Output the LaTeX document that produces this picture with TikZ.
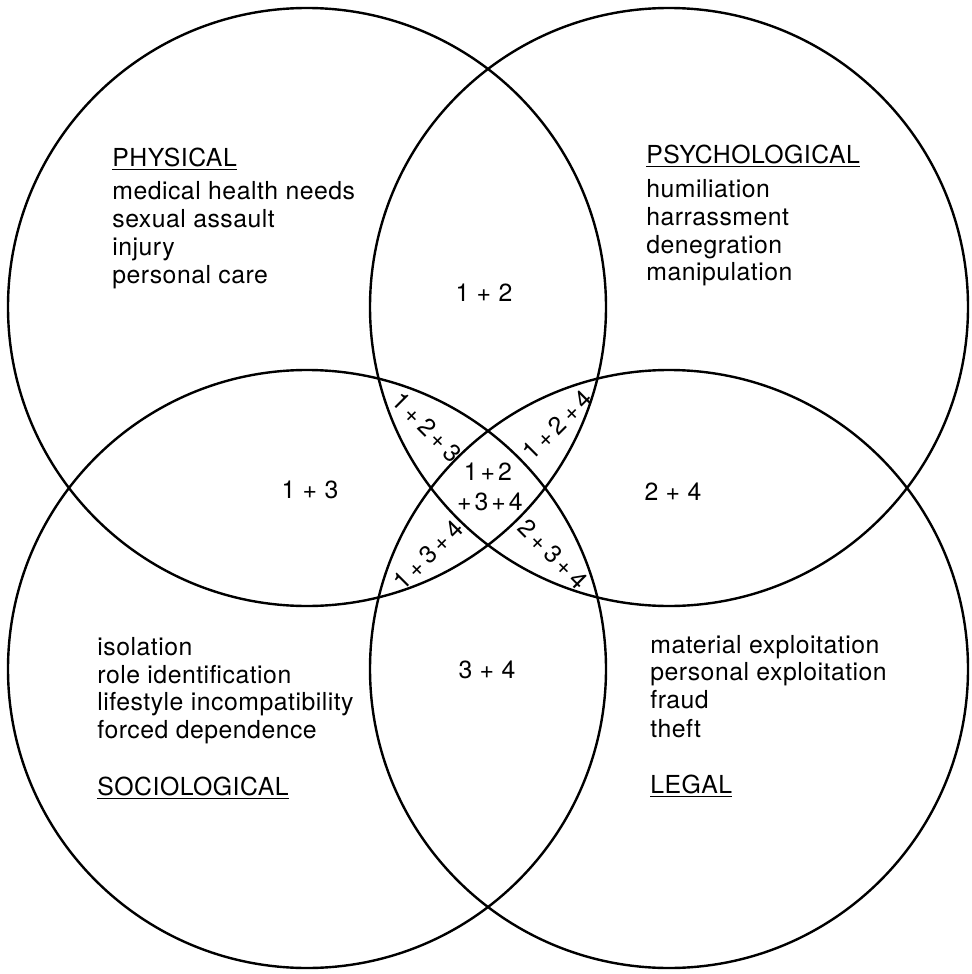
\documentclass[tikz,border=0pt]{standalone}
\usepackage{fontspec}
\setmainfont[LetterSpace=2]{TeX Gyre Heros}
\begin{document}
\begin{tikzpicture}[x=0.5pt,y=-0.5pt,
  ring/.style={circle,draw,line width=1.2pt,minimum size=299pt,inner sep=0pt},
  lbl/.style={anchor=base west,inner sep=0pt,font=\fontsize{12.4}{14}\selectfont},
  reg/.style={inner sep=0pt,font=\fontsize{12.4}{14}\selectfont}]
\useasboundingbox (0,0) rectangle (972,974);
% circles
\node[ring] (c1) at (307,307) {};
\node[ring] (c2) at (669,307) {};
\node[ring] (c3) at (307,669) {};
\node[ring] (c4) at (669,669) {};
% physical
\node[lbl] (phys) at (112,166) {\underline{PHYSICAL}};
\node[lbl] (p1) at (112,199) {medical health needs};
\node[lbl] (p2) at (112,227) {sexual assault};
\node[lbl] (p3) at (112,255) {injury};
\node[lbl] (p4) at (112,283) {personal care};
% psychological
\node[lbl] (psy) at (646,163) {\underline{PSYCHOLOGICAL}};
\node[lbl] (s1) at (646,197) {humiliation};
\node[lbl] (s2) at (646,225) {harrassment};
\node[lbl] (s3) at (646,253) {denegration};
\node[lbl] (s4) at (646,280) {manipulation};
% sociological
\node[lbl] (o1) at (97,655) {isolation};
\node[lbl] (o2) at (97,683) {role identification};
\node[lbl] (o3) at (97,710) {lifestyle incompatibility};
\node[lbl] (o4) at (97,738) {forced dependence};
\node[lbl] (soc) at (97,795) {\underline{SOCIOLOGICAL}};
% legal
\node[lbl] (l1) at (650,653) {material exploitation};
\node[lbl] (l2) at (650,680) {personal exploitation};
\node[lbl] (l3) at (650,708) {fraud};
\node[lbl] (l4) at (650,737) {theft};
\node[lbl] (leg) at (650,793) {\underline{LEGAL}};
% region labels
\node[reg] (r12) at (484,293) {1 + 2};
\node[reg] (r13) at (310,490) {1 + 3};
\node[reg] (r24) at (673,492) {2 + 4};
\node[reg] (r34) at (487,670) {3 + 4};
\node[reg] (r1234a) at (488,472) {1\kern1.5pt+\kern1.5pt2};
\node[reg] (r1234b) at (490,502) {+\kern1.5pt3\kern1.5pt+\kern1.5pt4};
\node[reg,rotate=-45] (r123) at (427,427) {1\,+\,2\,+\,3};
\node[reg,rotate=45] (r124) at (557,425) {1\,+\,2\,+\,4};
\node[reg,rotate=45] (r134) at (428,555) {1\,+\,3\,+\,4};
\node[reg,rotate=-45] (r234) at (553,554) {2\,+\,3\,+\,4};
\end{tikzpicture}
\end{document}
